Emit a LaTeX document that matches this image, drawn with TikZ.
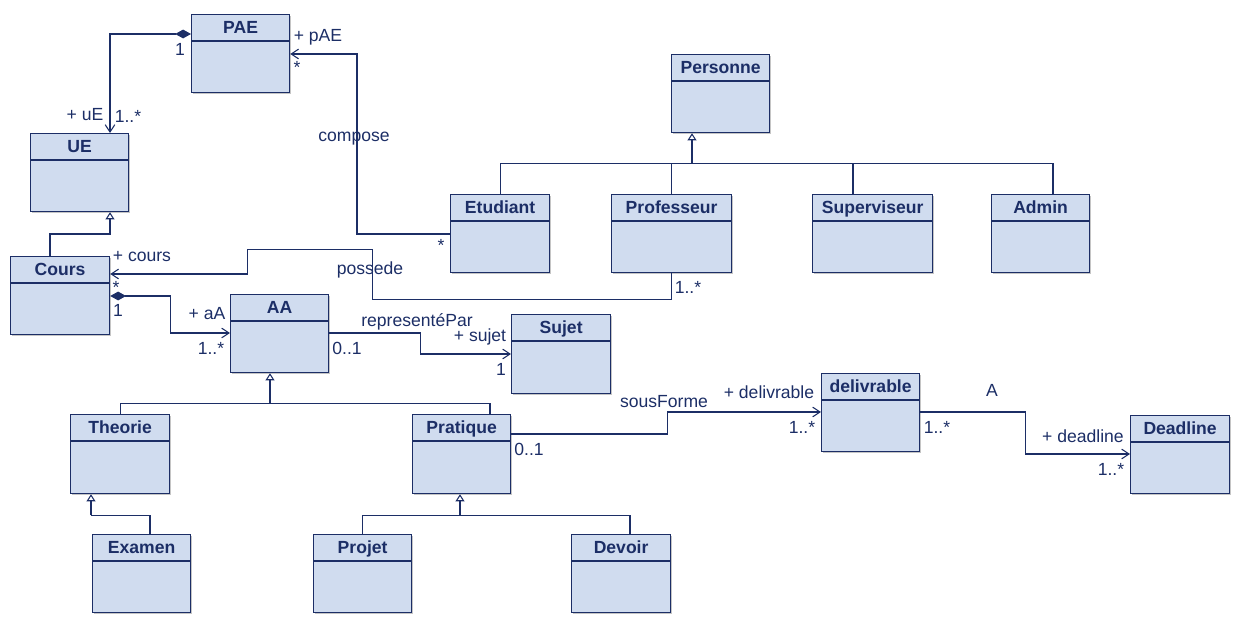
\documentclass[tikz,border=0pt]{standalone}
\usepackage{fontspec}
\setmainfont{Liberation Sans}
\usetikzlibrary{arrows.meta,calc,shadows}
\definecolor{umlfill}{RGB}{208,220,239}
\definecolor{umlink}{RGB}{28,46,102}
\tikzset{
 umlbox/.style={draw=umlink, fill=umlfill, line width=0.7pt, rectangle, inner sep=0pt, anchor=north west,
   drop shadow={shadow xshift=0.7pt, shadow yshift=-0.7pt, fill=black!45, opacity=0.5}},
 umltitle/.style={font=\fontsize{10}{12}\selectfont\bfseries, text=umlink, inner sep=0pt, text height=7.16pt, text depth=0pt},
 lbl/.style={font=\fontsize{10}{12}\selectfont, text=umlink, inner sep=0pt, anchor=base},
 conn/.style={draw=umlink, line width=0.6pt},
 nav/.style={conn, -{Straight Barb[length=4.2pt,width=5.5pt,line width=0.6pt]}},
 compnav/.style={conn, {Diamond[length=9pt,width=5pt]}-{Straight Barb[length=4.2pt,width=5.5pt,line width=0.6pt]}},
 genr/.style={conn, -{Triangle[open,length=4pt,width=5pt,fill=white,line width=0.6pt]}},
}
\newcommand\umlclass[6]{%
 \node[umlbox, minimum width=#4*0.02cm, minimum height=#5*0.02cm] (#1) at (#2,#3) {};
 \draw[draw=umlink, line width=0.7pt] ($(#1.north west)+(0,27)$) -- ($(#1.north east)+(0,27)$);
 \node[umltitle] (#1t) at ($(#1.north)+(0,13.5)$) {#6};
}
\begin{document}
\begin{tikzpicture}[x=0.02cm,y=-0.02cm]
\useasboundingbox (0,0) rectangle (1240,624);
% classes
\umlclass{pae}{191}{14}{98}{78}{PAE}
\umlclass{ue}{30}{133}{98}{78}{UE}
\umlclass{personne}{671}{54}{98}{78}{Personne}
\umlclass{etudiant}{450}{194}{99}{78}{Etudiant}
\umlclass{professeur}{611}{194}{120}{78}{Professeur}
\umlclass{superviseur}{812}{194}{120}{78}{Superviseur}
\umlclass{admin}{991}{194}{98}{78}{Admin}
\umlclass{cours}{10}{256}{99}{78}{Cours}
\umlclass{aa}{230}{294}{98}{78}{AA}
\umlclass{sujet}{511}{314}{99}{79}{Sujet}
\umlclass{delivrable}{821}{373}{98}{78}{delivrable}
\umlclass{deadline}{1130}{415}{99}{78}{Deadline}
\umlclass{theorie}{70}{414}{99}{79}{Theorie}
\umlclass{pratique}{412}{414}{98}{79}{Pratique}
\umlclass{examen}{92}{534}{98}{78}{Examen}
\umlclass{projet}{313}{534}{98}{78}{Projet}
\umlclass{devoir}{571}{534}{99}{78}{Devoir}

% associations
\draw[compnav] ($(pae.north west)+(0,20)$) -| ($(ue.north west)+(80,0)$);
\draw[nav] ($(etudiant.north west)+(0,40)$) -- ++(-93,0) |- ($(pae.north east)+(0,40)$);
\draw[nav] (professeur.south) -- ++(0,26) -- ++(-299,0) -- ++(0,-50) -- ++(-125,0) |- ($(cours.north east)+(0,18)$);
\draw[compnav] ($(cours.north east)+(0,40)$) -- ++(60,0) |- ($(aa.north west)+(0,39)$);
\draw[nav] ($(aa.north east)+(0,39)$) -- ++(91,0) |- ($(sujet.north west)+(0,40)$);
\draw[nav] ($(pratique.north east)+(0,20)$) -- ++(156,0) |- ($(delivrable.north west)+(0,39)$);
\draw[nav] ($(delivrable.north east)+(0,39)$) -- ++(105,0) |- ($(deadline.north west)+(0,39)$);

% generalizations
\coordinate (pbar) at ($(personne.south west)+(21,30)$);
\draw[genr] (pbar) -- ($(personne.south west)+(21,0)$);
\draw[conn] (etudiant.north) |- (pbar);
\draw[conn] (professeur.north) |- (pbar);
\draw[conn] ($(superviseur.north west)+(41,0)$) |- (pbar);
\draw[conn] ($(admin.north west)+(62,0)$) |- (pbar);

\draw[genr] ($(cours.north west)+(40,0)$) -- ++(0,-22) -| ($(ue.south west)+(80,0)$);

\coordinate (abar) at ($(aa.south west)+(40,30)$);
\draw[genr] (abar) -- ($(aa.south west)+(40,0)$);
\draw[conn] (theorie.north) |- (abar);
\draw[conn] ($(pratique.north west)+(78,0)$) |- (abar);

\coordinate (tbar) at ($(theorie.south west)+(21,21)$);
\draw[genr] (tbar) -- ($(theorie.south west)+(21,0)$);
\draw[conn] ($(examen.north west)+(58,0)$) |- (tbar);

\coordinate (prbar) at ($(pratique.south west)+(48,21)$);
\draw[genr] (prbar) -- ($(pratique.south west)+(48,0)$);
\draw[conn] (projet.north) |- (prbar);
\draw[conn] ($(devoir.north west)+(59,0)$) |- (prbar);

% labels
\node[lbl] (l01) at (180,56) {1};
\node[lbl] (l02) at (85,121) {+ uE};
\node[lbl] (l03) at (128,123) {1..*};
\node[lbl] (l04) at (318,42) {+ pAE};
\node[lbl] (l05) at (297,74) {*};
\node[lbl] (l06) at (354,142) {compose};
\node[lbl] (l07) at (441,252) {*};
\node[lbl] (l08) at (142,262) {+ cours};
\node[lbl] (l09) at (116,294) {*};
\node[lbl] (l10) at (118,317) {1};
\node[lbl] (l11) at (370,275) {possede};
\node[lbl] (l12) at (688,294) {1..*};
\node[lbl] (l13) at (207,320) {+ aA};
\node[lbl] (l14) at (211,355) {1..*};
\node[lbl] (l15) at (347,355) {0..1};
\node[lbl] (l16) at (417,327) {representéPar};
\node[lbl] (l17) at (480,342) {+ sujet};
\node[lbl] (l18) at (501,376) {1};
\node[lbl] (l19) at (664,408) {sousForme};
\node[lbl] (l20) at (769,399) {+ delivrable};
\node[lbl] (l21) at (802,434) {1..*};
\node[lbl] (l22) at (529,456) {0..1};
\node[lbl] (l23) at (992,397) {A};
\node[lbl] (l24) at (937,434) {1..*};
\node[lbl] (l25) at (1083,442) {+ deadline};
\node[lbl] (l26) at (1111,476) {1..*};
\end{tikzpicture}
\end{document}
